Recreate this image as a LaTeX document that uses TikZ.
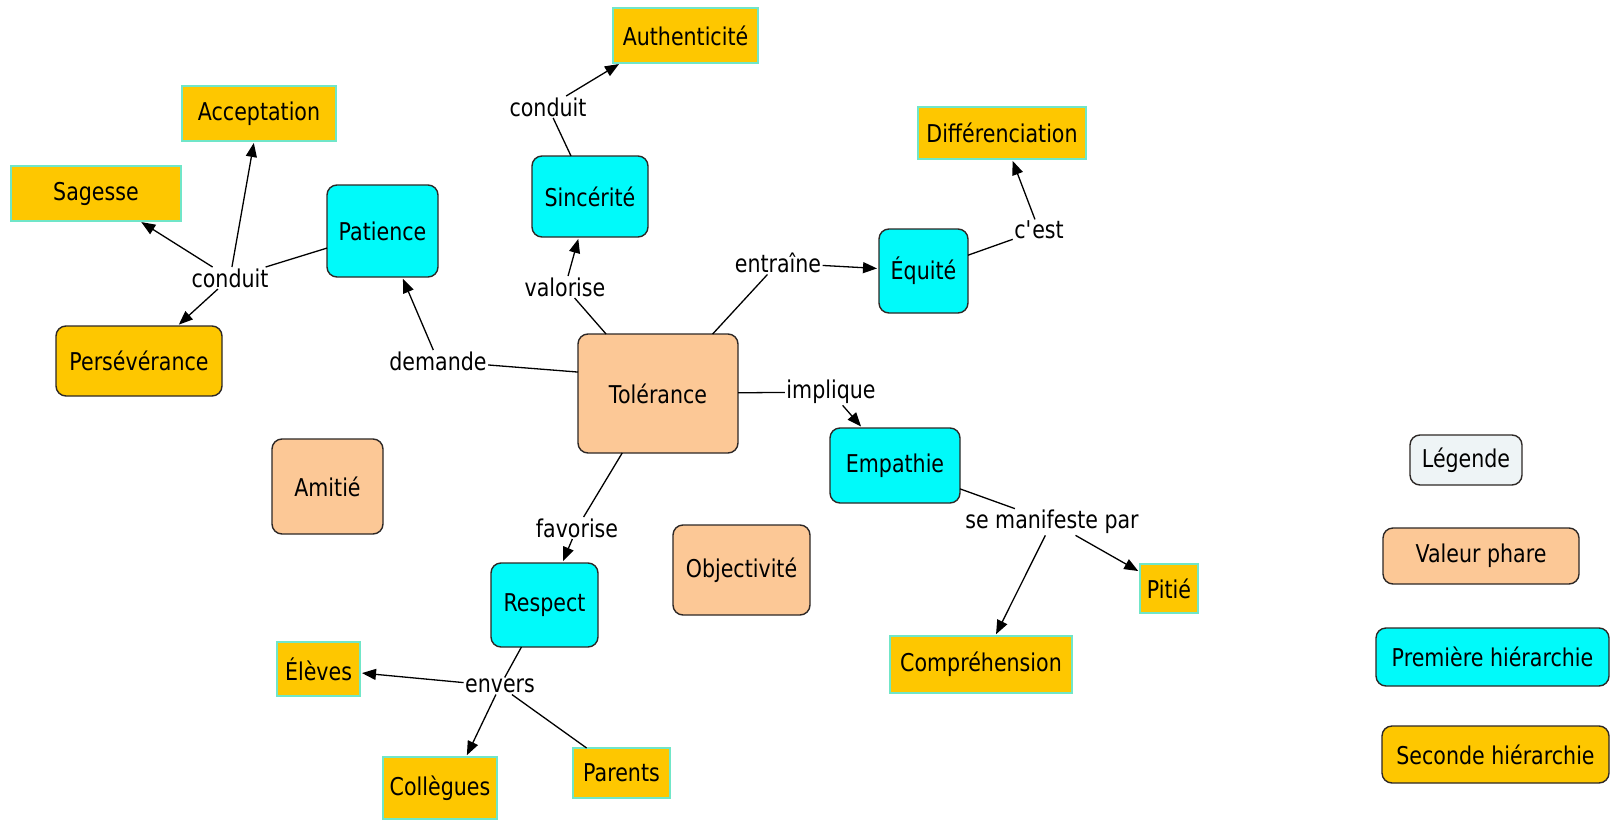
\documentclass[tikz,border=0pt]{standalone}
\usepackage{fontspec}
\setmainfont{DejaVu Sans}[FakeStretch=0.84]
\usetikzlibrary{arrows.meta}

\definecolor{peach}{RGB}{252,200,150}
\definecolor{aqua}{RGB}{0,250,250}
\definecolor{gold}{RGB}{254,199,0}
\definecolor{mint}{RGB}{112,230,200}
\definecolor{pale}{RGB}{238,244,246}
\definecolor{rim}{RGB}{45,40,38}

\tikzset{
  dim/.style 2 args={minimum width=#1pt,minimum height=#2pt},
  boxbase/.style={inner sep=0pt,outer sep=0pt,align=center},
  valeur/.style={boxbase,fill=peach,draw=rim,line width=1.4pt,rounded corners=10pt},
  premiere/.style={boxbase,fill=aqua,draw=rim,line width=1.4pt,rounded corners=10pt},
  seconde/.style={boxbase,fill=gold,draw=mint,line width=2pt},
  secondeR/.style={boxbase,fill=gold,draw=rim,line width=1.4pt,rounded corners=10pt},
  legende/.style={boxbase,fill=pale,draw=rim,line width=1.4pt,rounded corners=10pt},
  lien/.style={inner sep=1.5pt,outer sep=0pt},
  trait/.style={draw=black,line width=1.3pt},
  fleche/.style={trait,-{Triangle[length=14pt,width=11pt]},shorten >=2pt},
}

\begin{document}
\begin{tikzpicture}[x=1pt,y=-1pt,font=\fontsize{24.5}{28}\selectfont]
\useasboundingbox[fill=white] (0,0) rectangle (1612,822);

% central value and unlinked values
\node[valeur,dim={160}{119}] (tol) at (658,393.5) {Tolérance};
\node[valeur,dim={111}{95}]  (ami) at (327.5,486.5) {Amitié};
\node[valeur,dim={137}{90}]  (obj) at (741.5,570) {Objectivité};

% first level
\node[premiere,dim={111}{92}] (pat) at (382.5,231) {Patience};
\node[premiere,dim={116}{81}] (sin) at (590,196.5) {Sincérité};
\node[premiere,dim={89}{84}]  (equ) at (923.5,271) {Équité};
\node[premiere,dim={130}{75}] (emp) at (895,465.5) {Empathie};
\node[premiere,dim={107}{84}] (res) at (544.5,605) {Respect};

% second level
\node[seconde,dim={145}{55}]  (aut) at (685.5,35.5) {Authenticité};
\node[seconde,dim={154}{55}]  (acc) at (259,113.5) {Acceptation};
\node[seconde,dim={170}{55}]  (sag) at (96,193.5) {Sagesse};
\node[secondeR,dim={166}{70}] (per) at (139,361) {Persévérance};
\node[seconde,dim={168}{52}]  (dif) at (1002,133) {Différenciation};
\node[seconde,dim={58}{49}]   (pit) at (1169,588.5) {Pitié};
\node[seconde,dim={182}{57}]  (com) at (981,664.5) {Compréhension};
\node[seconde,dim={83}{54}]   (ele) at (318.5,669) {Élèves};
\node[seconde,dim={114}{62}]  (col) at (440,788) {Collègues};
\node[seconde,dim={97}{50}]   (par) at (621.5,773) {Parents};

% legend
\node[legende,dim={112}{50}]   (leg) at (1466,460) {Légende};
\node[valeur,dim={196}{56}]    (lv)  at (1481,556) {Valeur phare};
\node[premiere,dim={233}{58}]  (lp)  at (1492.5,657) {Première hiérarchie};
\node[secondeR,dim={227}{57}]  (ls)  at (1495.5,754.5) {Seconde hiérarchie};

% linking phrases
\node[lien] (demande)  at (438,361)  {demande};
\node[lien] (valorise) at (565,287)  {valorise};
\node[lien] (entraine) at (778,263)  {entraîne};
\node[lien] (implique) at (831,392)  {implique};
\node[lien] (favorise) at (577,528)  {favorise};
\node[lien] (conduitA) at (230,278)  {conduit};
\node[lien] (conduitB) at (548,107)  {conduit};
\node[lien] (cest)     at (1039,230) {c\textquotesingle est};
\node[lien] (manif)    at (1052,522) {se manifeste par};
\node[lien] (envers)   at (500,686)  {envers};

% connectors from the central value
\draw[trait]  (tol.165) -- (demande);
\draw[fleche] (demande) -- (pat);
\draw[trait]  (tol) -- (valorise);
\draw[fleche] (valorise) -- (sin);
\draw[trait]  (tol) -- (entraine);
\draw[fleche] (entraine) -- (equ);
\draw[trait]  (tol) -- (implique);
\draw[fleche] (implique) -- (emp);
\draw[trait]  (tol) -- (favorise);
\draw[fleche] (favorise) -- (res);

% Patience
\draw[trait]  (pat) -- (conduitA);
\draw[fleche] (conduitA) -- (sag);
\draw[fleche] (conduitA) -- (acc);
\draw[fleche] (conduitA) -- (per);

% Sincérité
\draw[trait]  (sin) -- (conduitB);
\draw[fleche] (conduitB) -- (aut.203);

% Équité
\draw[trait]  (equ) -- (cest);
\draw[fleche] (cest) -- (dif);

% Empathie
\draw[trait]  (emp) -- (manif);
\draw[fleche] (manif) -- (pit);
\draw[fleche] (manif) -- (com);

% Respect
\draw[trait]  (res) -- (envers);
\draw[fleche] (envers) -- (ele);
\draw[fleche] (envers) -- (col.50);
\draw[trait]  (envers) -- (par);
\end{tikzpicture}
\end{document}
